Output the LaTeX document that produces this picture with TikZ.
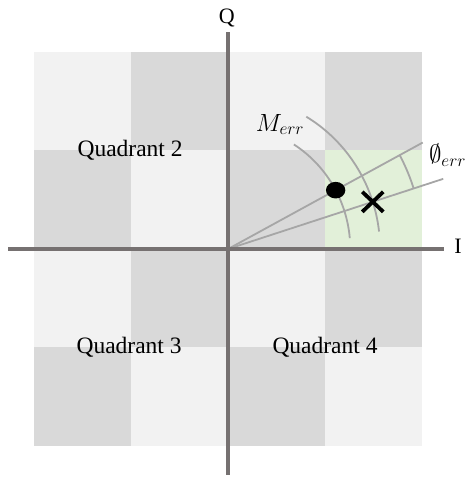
\documentclass[tikz,border=0pt]{standalone}
\usepackage{amsmath}
\usepackage{amssymb}
\usepackage{fontspec}
\setmainfont{Liberation Serif}
\usepackage{tikz}
\usepackage{xcolor}
\usetikzlibrary{positioning,calc}
\definecolor{iqlight}{HTML}{F2F2F2}
\definecolor{iqdark}{HTML}{D9D9D9}
\definecolor{iqgreen}{HTML}{E2F0D9}
\definecolor{iqaxis}{HTML}{767171}
\definecolor{iqline}{HTML}{A6A6A6}
\tikzset{
  axisLine/.style={draw=iqaxis, line width=4pt},
  axisLabel/.style={font=\fontsize{22}{26}\selectfont, inner sep=0pt},
  quadLabel/.style={font=\fontsize{23.5}{28}\selectfont, inner sep=0pt},
  errLabel/.style={font=\fontsize{25}{30}\selectfont, inner sep=0pt},
  errLine/.style={draw=iqline, line width=1.8pt},
  crossMark/.style={draw=black, line width=3.8pt}
}

\begin{document}
\begin{tikzpicture}[x=97pt,y=98.5pt]
  \useasboundingbox (-2.351,-2.325) rectangle (2.515,2.528);
  \foreach \i in {-2,...,1}
    \foreach \j in {-2,...,1} {
      \pgfmathtruncatemacro\cellodd{mod(\i+\j+4,2)}
      \ifnum\cellodd=1
        \fill[iqlight] (\i,\j) rectangle ++(1,1);
      \else
        \fill[iqdark] (\i,\j) rectangle ++(1,1);
      \fi
    }
  \fill[iqgreen] (1,0) rectangle (2,1);
  \coordinate (O) at (0,0);
  \coordinate (ray1) at (28.3:2.28);
  \coordinate (ray2) at (17.8:2.33);
  \draw[errLine] (O) -- (ray1);
  \draw[errLine] (O) -- (ray2);
  \draw[errLine] (57.4:1.26) arc[start angle=57.4, end angle=5, radius=1.26];
  \draw[errLine] (59:1.567) arc[start angle=59, end angle=6.5, radius=1.567];
  \draw[errLine] (28.3:2.01) arc[start angle=28.3, end angle=17.8, radius=2.01];
  \coordinate (ideal) at (28.3:1.26);
  \coordinate (meas) at (17.8:1.567);
  \fill[black] (ideal) ellipse[x radius=9.7pt, y radius=8.3pt];
  \draw[crossMark] ($(meas)+(-10.5pt,-10pt)$) -- ($(meas)+(10.5pt,10pt)$);
  \draw[crossMark] ($(meas)+(-10.5pt,10pt)$) -- ($(meas)+(10.5pt,-10pt)$);
  \coordinate (iw) at (-2.268,0);
  \coordinate (ie) at (2.227,0);
  \coordinate (qs) at (0,-2.294);
  \coordinate (qn) at (0,2.203);
  \draw[axisLine] (iw) -- (ie);
  \draw[axisLine] (qs) -- (qn);
  \node[axisLabel] (ilab) at (2.37,0.03) {I};
  \node[axisLabel] (qlab) at (-0.013,2.345) {Q};
  \node[quadLabel] (quad2) at (-1.01,1) {Quadrant 2};
  \node[quadLabel] (quad3) at (-1.02,-1) {Quadrant 3};
  \node[quadLabel] (quad4) at (1,-1) {Quadrant 4};
  \node[errLabel] (merr) at (0.536,1.265) {$M_{err}$};
  \node[errLabel, anchor=west] (perr) at (2.07,0.95) {$\emptyset_{err}$};
\end{tikzpicture}
\end{document}
